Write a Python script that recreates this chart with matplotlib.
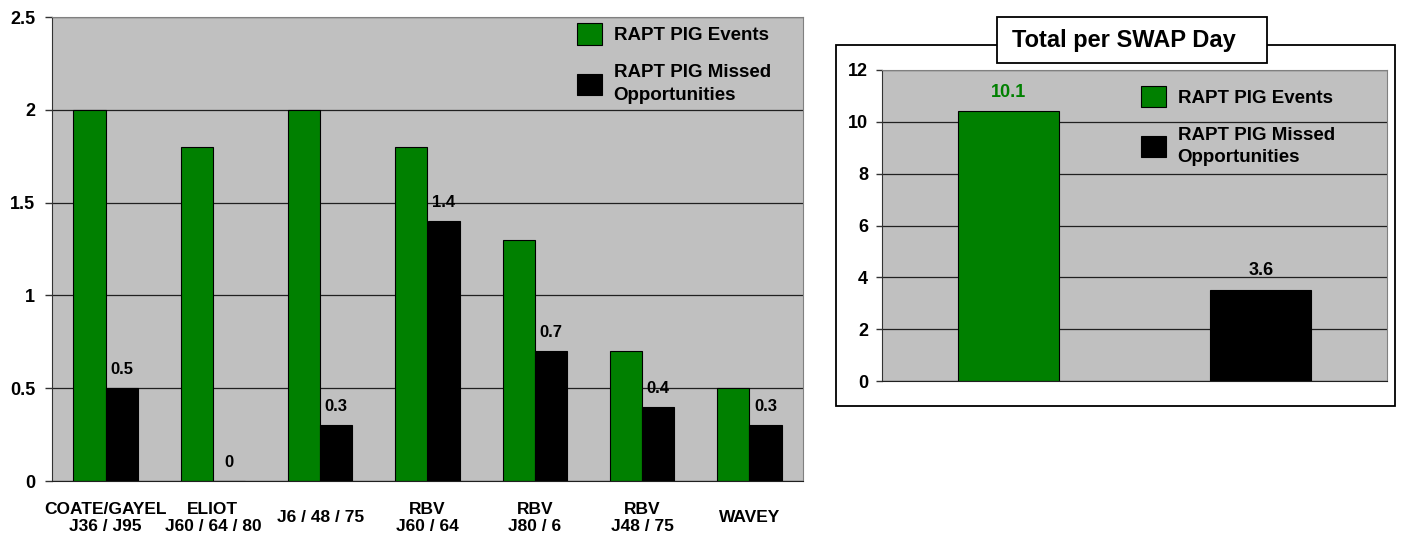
import matplotlib
matplotlib.use("Agg")
import matplotlib.pyplot as plt
from matplotlib.patches import Rectangle, Patch

plt.rcParams['font.family'] = ['Liberation Sans', 'DejaVu Sans']
plt.rcParams['font.weight'] = 'bold'

# data
sites = ["COATE/GAYEL\nJ36 / J95", "ELIOT\nJ60 / 64 / 80", "J6 / 48 / 75",
         "RBV\nJ60 / 64", "RBV\nJ80 / 6", "RBV\nJ48 / 75", "WAVEY"]
pig_events = [2.0, 1.8, 2.0, 1.8, 1.3, 0.7, 0.5]
missed = [0.5, 0.0, 0.3, 1.4, 0.7, 0.4, 0.3]
missed_labels = ["0.5", "0", "0.3", "1.4", "0.7", "0.4", "0.3"]

total_values = [10.4, 3.5]
total_labels = ["10.1", "3.6"]
series_names = ["RAPT PIG Events", "RAPT PIG Missed\nOpportunities"]

GREEN = "#008000"
BG = "#c0c0c0"
W, H = 1401, 535

def fx(px):
    return px / W

def fy(py):
    return 1 - py / H

def style_axes(a):
    a.set_facecolor(BG)
    a.set_axisbelow(True)
    a.yaxis.grid(True, color="#202020", linewidth=0.9)
    a.spines["left"].set_color("#333333")
    a.spines["bottom"].set_color("#202020")
    a.spines["top"].set_color("#808080")
    a.spines["right"].set_color("#808080")

def add_legend(a, anchor):
    handles = [Patch(facecolor=GREEN, edgecolor="black", linewidth=0.8),
               Patch(facecolor="black", edgecolor="black", linewidth=0.8)]
    leg = a.legend(handles, series_names, loc="upper left", bbox_to_anchor=anchor,
                   frameon=False, borderpad=0, borderaxespad=0,
                   handlelength=1.35, handleheight=1.35, handletextpad=0.6, labelspacing=1.05,
                   prop={"weight": "bold", "size": 13.5})
    for t in leg.get_texts():
        t.set_linespacing(1.45)
    return leg

fig = plt.figure(figsize=(W / 100, H / 100), dpi=100)

# ---- left chart
ax = fig.add_axes([fx(52), fy(481), fx(751), 464 / H])
style_axes(ax)
xs = list(range(len(sites)))
bw = 0.30
ax.bar([x - bw / 2 for x in xs], pig_events, bw, color=GREEN, edgecolor="black", linewidth=0.8)
ax.bar([x + bw / 2 for x in xs], missed, bw, color="black", edgecolor="black", linewidth=0.8)
for x, v, lab in zip(xs, missed, missed_labels):
    ax.annotate(lab, (x + bw / 2, v), xytext=(0, 13.5), textcoords="offset points",
                ha="center", va="center", fontsize=12, fontweight="bold")
ax.set_xlim(-0.5, 6.5)
ax.set_ylim(0, 2.5)
ax.set_yticks([0, 0.5, 1, 1.5, 2, 2.5])
ax.set_yticklabels(["0", "0.5", "1", "1.5", "2", "2.5"], fontsize=13, fontweight="bold")
ax.set_xticks(xs)
ax.set_xticklabels(sites, fontsize=12.5, fontweight="bold")
for lbl in ax.get_xticklabels():
    lbl.set_va("center")
    lbl.set_linespacing(1.2)
ax.tick_params(axis="x", length=0, pad=26.5)
ax.tick_params(axis="y", length=5, width=1, pad=7, color="#333333")
add_legend(ax, (0.699, 0.986))

# ---- right chart: box and title
fig.patches.append(Rectangle((fx(836), fy(406)), fx(1395 - 836), (406 - 45) / H,
                             transform=fig.transFigure, facecolor="white",
                             edgecolor="black", linewidth=1.3, zorder=-1))
fig.patches.append(Rectangle((fx(997), fy(63)), fx(1267 - 997), (63 - 17) / H,
                             transform=fig.transFigure, facecolor="white",
                             edgecolor="black", linewidth=1.3, zorder=5))
fig.text(fx(1124), fy(40), "Total per SWAP Day", ha="center", va="center",
         fontsize=17, fontweight="bold", zorder=6)

ax2 = fig.add_axes([fx(882), fy(381), fx(505), 311 / H])
ax2.set_zorder(2)
style_axes(ax2)
ax2.bar([0, 1], total_values, 0.40, color=[GREEN, "black"], edgecolor="black", linewidth=0.8)
for x, v, lab, c in zip([0, 1], total_values, total_labels, [GREEN, "black"]):
    ax2.annotate(lab, (x, v), xytext=(0, 14), textcoords="offset points",
                 ha="center", va="center", fontsize=13, fontweight="bold", color=c)
ax2.set_xlim(-0.5, 1.5)
ax2.set_ylim(0, 12)
ax2.set_yticks(range(0, 13, 2))
ax2.set_yticklabels([str(v) for v in range(0, 13, 2)], fontsize=13, fontweight="bold")
ax2.set_xticks([])
ax2.tick_params(axis="y", length=4, width=1, pad=6, color="#333333")
add_legend(ax2, (0.513, 0.949))

fig.savefig("out.png", dpi=100)
